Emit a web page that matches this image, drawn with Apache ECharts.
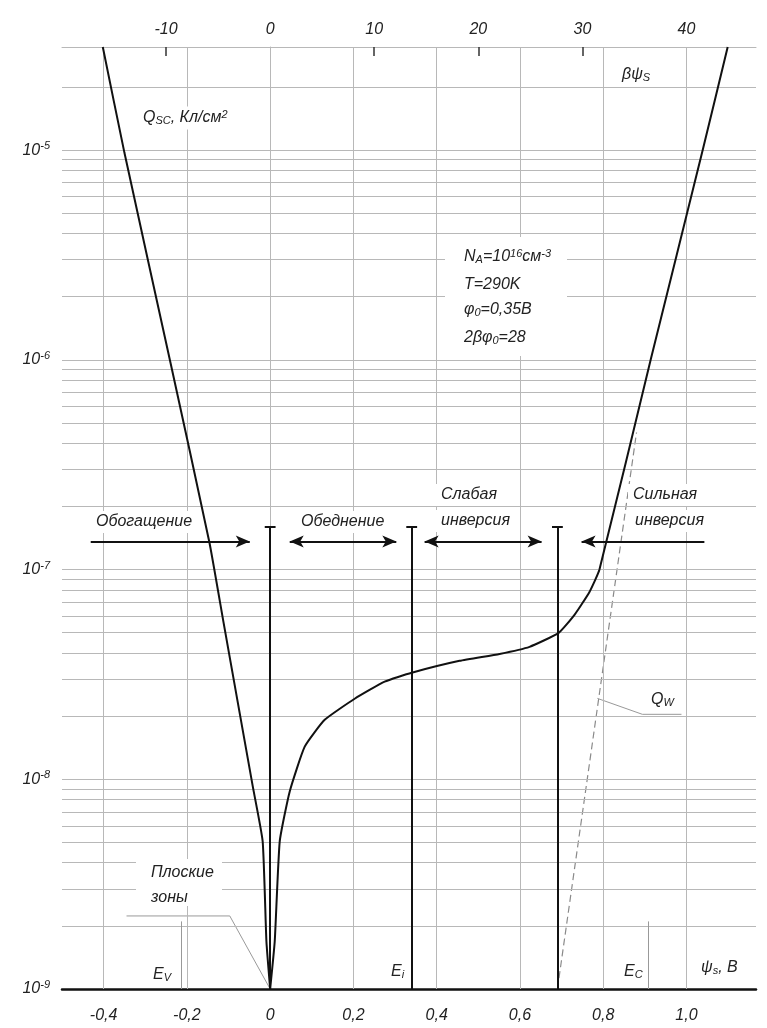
<!DOCTYPE html>
<html><head><meta charset="utf-8">
<script src="https://cdn.jsdelivr.net/npm/echarts@6/dist/echarts.min.js"></script>
<style>html,body{margin:0;padding:0;background:#fff}#c{width:767px;height:1028px}</style>
</head><body><div id="c"></div>
<script>
// ---- data ----
const X_MIN = -0.5, X_MAX = 1.167;
const Y_MIN = 1e-9, Y_MAX = 3.1e-5;
const X_TICKS = [-0.4, -0.2, 0, 0.2, 0.4, 0.6, 0.8, 1.0];
const BETA = 40;                       // 1/V at 290 K
const TOP_TICKS = [-10, 0, 10, 20, 30, 40];
const TOP_MINOR_TICKS = [-10, 10, 20, 30];
const Y_DECADES = [-9, -8, -7, -6, -5];
const MANTISSAS = [1, 2, 3, 4, 5, 6, 7, 8, 9];
const LEFT_BRANCH = [
  [-0.402, 3.1e-5], [-0.350, 9.7e-6], [-0.239, 9.6e-7], [-0.146, 1.35e-7],
  [-0.112, 5.6e-8], [-0.078, 2.34e-8], [-0.042, 9.3e-9], [-0.018, 5.06e-9],
  [-0.009, 1.69e-9], [0, 1e-9]
];
const RIGHT_BRANCH = [
  [0, 1e-9], [0.011, 1.69e-9], [0.023, 5.06e-9], [0.047, 8.75e-9],
  [0.083, 1.43e-8], [0.131, 1.92e-8], [0.203, 2.42e-8], [0.275, 2.92e-8],
  [0.340, 3.22e-8], [0.455, 3.67e-8], [0.551, 3.96e-8], [0.623, 4.28e-8],
  [0.693, 4.99e-8], [0.731, 6.08e-8], [0.767, 7.82e-8], [0.791, 1.0e-7],
  [0.914, 1e-6], [1.039, 1e-5], [1.099, 3.1e-5]
];
const QW_LINE = [[0.69, 1e-9], [0.88, 4.5e-7]];
const BOUNDARIES = [0, 0.34, 0.69];
const BOUNDARY_TOP = 1.6e-7;
const ARROW_Y = 1.36e-7;
const ARROWS = [
  { from: -0.431, to: -0.049, both: false },
  { from: 0.047, to: 0.303, both: true },
  { from: 0.371, to: 0.652, both: true },
  { from: 1.043, to: 0.748, both: false }
];
const LEVEL_MARKS = [[-0.213, 2.1e-9], [0.909, 2.1e-9]];  // E_V, E_C
const FLATBAND_LEADER = [[-0.345, 2.23e-9], [-0.097, 2.23e-9], [0, 1e-9]];
const QW_LEADER = [[0.786, 2.43e-8], [0.894, 2.04e-8], [0.988, 2.04e-8]];

// ---- chart ----
const chart = echarts.init(document.getElementById('c'), null, { renderer: 'canvas' });
const FONT = 'Liberation Sans, Arial, sans-serif';
const GRID_COLOR = '#b8b8b8';
const near = (a, b) => Math.abs(a - b) < 1e-6;

const yGrid = [];
Y_DECADES.forEach(d => MANTISSAS.forEach(m => {
  const v = m * Math.pow(10, d);
  if (v > Y_MIN * 1.0001 && v < Y_MAX * 0.9) yGrid.push(v);
}));

const gridLines = [
  ...yGrid.map(v => [{ coord: [X_MIN, v] }, { coord: [X_MAX, v] }]),
  ...X_TICKS.map(v => [{ coord: [v, Y_MIN] }, { coord: [v, Y_MAX] }])
];

const blackSegs = [];
BOUNDARIES.forEach(x => {
  blackSegs.push([{ coord: [x, Y_MIN] }, { coord: [x, BOUNDARY_TOP] }]);
  blackSegs.push([{ coord: [x - 0.013, BOUNDARY_TOP] }, { coord: [x + 0.013, BOUNDARY_TOP] }]);
});
ARROWS.forEach(a => {
  blackSegs.push([
    { coord: [a.from, ARROW_Y], symbol: a.both ? 'arrow' : 'none', symbolSize: [9, 14] },
    { coord: [a.to, ARROW_Y], symbol: 'arrow', symbolSize: [9, 14] }
  ]);
});
const levelSegs = LEVEL_MARKS.map(([x, t]) => [{ coord: [x, Y_MIN] }, { coord: [x, t] }]);

const it = { fontFamily: FONT, fontStyle: 'italic', color: '#222' };
const rich = {
  n: { ...it, fontSize: 16 },
  sub: { ...it, fontSize: 11, verticalAlign: 'bottom', padding: [6, 0, 0, 0] },
  sup: { ...it, fontSize: 11, verticalAlign: 'top', padding: [0, 0, 6, 0] }
};

function txt(x, y, text, opts = {}) {
  return {
    type: 'text', x, y, z: 30,
    style: Object.assign({
      text, rich, font: `italic 16px ${FONT}`, fill: '#222',
      verticalAlign: 'middle', align: 'left',
      backgroundColor: '#fff', padding: [3, 5]
    }, opts)
  };
}
function box(x, y, w, h) {
  return { type: 'rect', z: 29, shape: { x, y, width: w, height: h }, style: { fill: '#fff' } };
}

const option = {
  animation: false,
  backgroundColor: '#fff',
  grid: { left: 62, right: 11, top: 47, bottom: 39, containLabel: false },
  xAxis: [
    {
      type: 'value', position: 'bottom', min: X_MIN, max: X_MAX, interval: 0.1,
      axisLine: { lineStyle: { color: '#111', width: 2.5 } },
      axisTick: { show: false }, splitLine: { show: false },
      axisLabel: {
        margin: 19, fontFamily: FONT, fontStyle: 'italic', fontSize: 16, color: '#222',
        formatter: v => X_TICKS.some(t => near(t, v)) ? (near(v, 0) ? '0' : v.toFixed(1).replace('.', ',')) : ''
      }
    },
    {
      type: 'value', position: 'top', min: X_MIN * BETA, max: X_MAX * BETA, interval: 10,
      axisLine: { lineStyle: { color: GRID_COLOR, width: 1 } },
      axisTick: { show: true, inside: true, length: 9, customValues: TOP_MINOR_TICKS, lineStyle: { color: '#333', width: 1.5 } },
      splitLine: { show: false },
      axisLabel: {
        margin: 9, fontFamily: FONT, fontStyle: 'italic', fontSize: 16, color: '#222',
        customValues: TOP_TICKS,
        formatter: v => TOP_TICKS.some(t => near(t, v)) ? String(v) : ''
      }
    }
  ],
  yAxis: {
    type: 'log', logBase: 10, min: Y_MIN, max: Y_MAX,
    axisLine: { show: true, lineStyle: { color: GRID_COLOR, width: 1 } },
    axisTick: { show: false }, splitLine: { show: false },
    axisLabel: {
      margin: 12,
      formatter: v => {
        const e = Math.log10(v);
        if (Math.abs(e - Math.round(e)) > 1e-6) return '';
        return '{b|10}{s|' + Math.round(e) + '}';
      },
      rich: {
        b: { fontFamily: FONT, fontStyle: 'italic', fontSize: 16, color: '#222' },
        s: { fontFamily: FONT, fontStyle: 'italic', fontSize: 11, color: '#222', verticalAlign: 'top', padding: [0, 0, 8, 0] }
      }
    }
  },
  series: [
    {
      name: 'grid', type: 'line', data: [], z: 1, silent: true,
      markLine: {
        silent: true, symbol: 'none', label: { show: false },
        lineStyle: { color: GRID_COLOR, width: 1, type: 'solid' },
        data: gridLines
      }
    },
    {
      name: 'levels', type: 'line', data: [], z: 2, silent: true,
      markLine: {
        silent: true, symbol: 'none', label: { show: false },
        lineStyle: { color: '#999', width: 1, type: 'solid' },
        data: levelSegs
      }
    },
    {
      name: 'Q_W', type: 'line', data: QW_LINE, symbol: 'none', z: 4,
      lineStyle: { color: '#8a8a8a', width: 1.2, type: [7, 4] }
    },
    {
      name: 'leaders1', type: 'line', data: FLATBAND_LEADER, symbol: 'none', z: 4,
      lineStyle: { color: '#999', width: 1 }
    },
    {
      name: 'leaders2', type: 'line', data: QW_LEADER, symbol: 'none', z: 4,
      lineStyle: { color: '#999', width: 1 }
    },
    {
      name: 'marks', type: 'line', data: [], z: 6, silent: true,
      markLine: {
        silent: true, symbol: 'none', label: { show: false },
        lineStyle: { color: '#111', width: 2, type: 'solid' },
        data: blackSegs
      }
    },
    {
      name: 'Qsc accumulation', type: 'line', data: LEFT_BRANCH, symbol: 'none', smooth: 0.15, z: 7,
      lineStyle: { color: '#111', width: 2 }
    },
    {
      name: 'Qsc depletion/inversion', type: 'line', data: RIGHT_BRANCH, symbol: 'none', smooth: 0.15, z: 7,
      lineStyle: { color: '#111', width: 2 }
    }
  ],
  graphic: [
    box(445, 237, 122, 119),
    box(136, 859, 86, 47),
    txt(138, 118, '{n|Q}{sub|SC}{n|, Кл/см}{sup|2}'),
    txt(617, 75, '{n|βψ}{sub|S}', { backgroundColor: null }),
    txt(459, 257, '{n|N}{sub|A}{n|=10}{sup|16}{n|см}{sup|-3}', { backgroundColor: null }),
    txt(459, 285, 'T=290K', { backgroundColor: null }),
    txt(459, 310, '{n|φ}{sub|0}{n|=0,35В}', { backgroundColor: null }),
    txt(459, 338, '{n|2βφ}{sub|0}{n|=28}', { backgroundColor: null }),
    txt(91, 522, 'Обогащение'),
    txt(296, 522, 'Обеднение'),
    txt(436, 495, 'Слабая'),
    txt(436, 521, 'инверсия'),
    txt(628, 495, 'Сильная'),
    txt(630, 521, 'инверсия'),
    txt(146, 873, 'Плоские', { backgroundColor: null }),
    txt(146, 898, 'зоны', { backgroundColor: null }),
    txt(148, 975, '{n|E}{sub|V}', { backgroundColor: null }),
    txt(386, 972, '{n|E}{sub|i}', { backgroundColor: null }),
    txt(619, 972, '{n|E}{sub|C}', { backgroundColor: null }),
    txt(696, 968, '{n|ψ}{sub|s}{n|, В}', { backgroundColor: null }),
    txt(646, 700, '{n|Q}{sub|W}', { backgroundColor: null })
  ]
};
chart.setOption(option);
</script>
</body></html>
